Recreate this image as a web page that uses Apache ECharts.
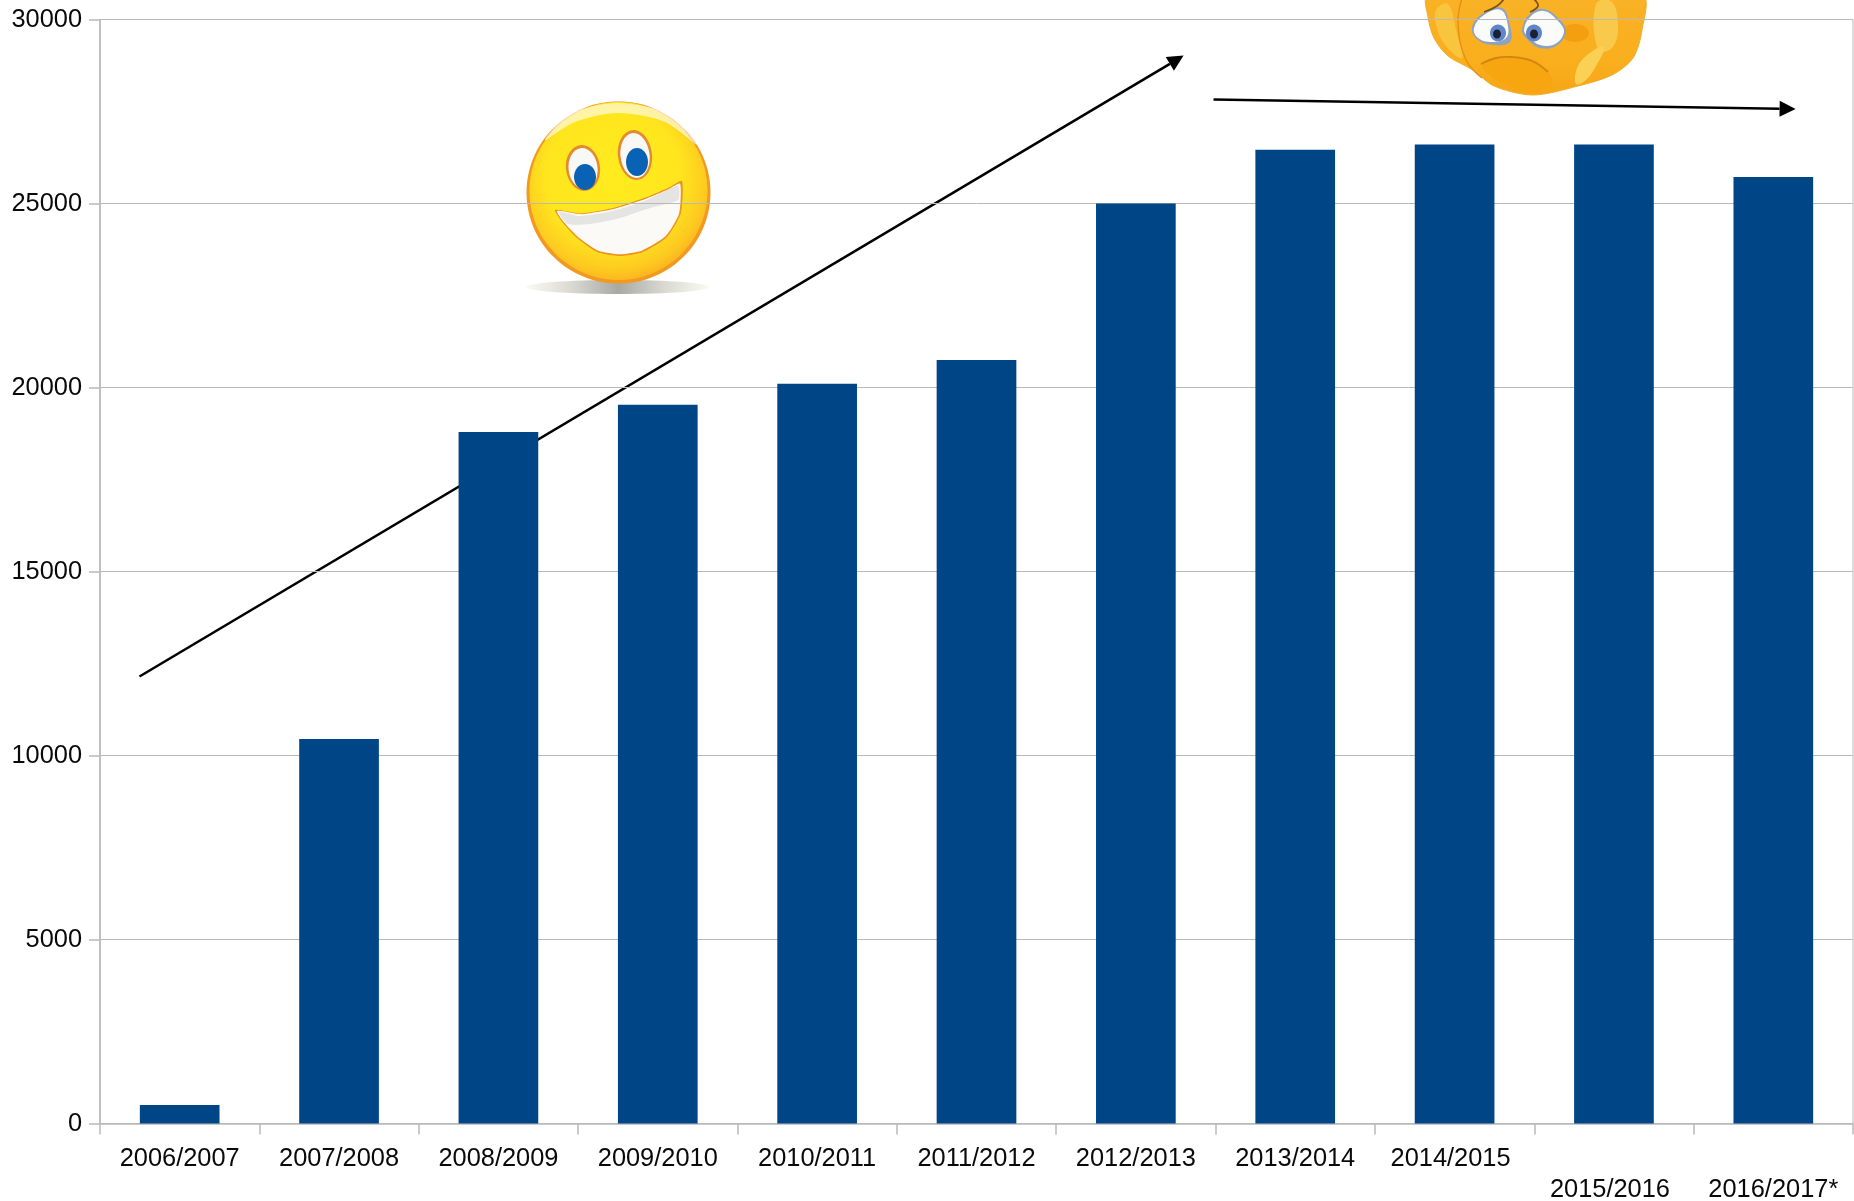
<!DOCTYPE html>
<html>
<head>
<meta charset="utf-8">
<title>chart</title>
<script src="https://cdn.jsdelivr.net/npm/echarts@6/dist/echarts.min.js"></script>
<style>
  html, body { margin: 0; padding: 0; background: #fff; }
  #main { width: 1854px; height: 1201px; }
</style>
</head>
<body>
<div id="main"></div>
<script>
const categories = ['2006/2007', '2007/2008', '2008/2009', '2009/2010', '2010/2011', '2011/2012', '2012/2013', '2013/2014', '2014/2015', '2015/2016', '2016/2017*'];
const values = [500, 10450, 18790, 19530, 20100, 20750, 25000, 26460, 26600, 26600, 25720];
const yTicks = [0, 5000, 10000, 15000, 20000, 25000, 30000];

const gridColor = '#b9b9b9';
const barColor = '#004586';
const font = '"Liberation Sans", Arial, sans-serif';
const labelSize = 25.4;

function ellipse (cx, cy, rx, ry, fill, extra) {
  return Object.assign({type: 'ellipse', shape: {cx, cy, rx, ry}, style: {fill}}, extra || {});
}

function blob (points, fill, smooth, stroke, lineWidth) {
  return {
    type: 'polygon',
    shape: {points, smooth: smooth === undefined ? 0.4 : smooth},
    style: {fill, stroke: stroke || 'none', lineWidth: lineWidth || 0}
  };
}

function curve (points, stroke, lineWidth) {
  return {type: 'polyline', shape: {points, smooth: 0.4}, style: {stroke, lineWidth, fill: 'none'}};
}

function radial (x, y, r, stops) {
  return new echarts.graphic.RadialGradient(x, y, r, stops.map(s => ({offset: s[0], color: s[1]})));
}

function linear (x2, y2, stops) {
  return new echarts.graphic.LinearGradient(0, 0, x2, y2, stops.map(s => ({offset: s[0], color: s[1]})));
}

// annotation arrow, the head is worked out from the direction of the line
function arrow (x1, y1, x2, y2) {
  const len = Math.hypot(x2 - x1, y2 - y1);
  const ux = (x2 - x1) / len;
  const uy = (y2 - y1) / len;
  const bx = x2 - ux * 16;
  const by = y2 - uy * 16;
  return [
    {type: 'line', shape: {x1, y1, x2: bx, y2: by}, style: {stroke: '#000', lineWidth: 2.6}},
    {type: 'polygon', shape: {points: [[x2, y2], [bx - uy * 8, by + ux * 8], [bx + uy * 8, by - ux * 8]]}, style: {fill: '#000'}}
  ];
}

function happyFace () {
  const mouth = [[555, 210], [580, 213.5], [613, 208], [647, 197], [670, 187], [682, 181], [681, 213], [667, 237], [643, 252], [620, 256], [597, 252], [577, 238], [563, 223]];
  return [
    {type: 'rect', shape: {x: 518, y: 102, width: 198, height: 196}, style: {fill: '#fff'}},
    ellipse(618, 287, 92, 7, linear(1, 0, [[0, '#fbfbf5'], [0.25, '#d9d9d2'], [0.5, '#a9a9a4'], [0.75, '#d9d9d2'], [1, '#fbfbf5']])),
    ellipse(618.5, 192.5, 92, 91, '#f29a20'),
    ellipse(618.5, 191, 89, 89, radial(0.47, 0.42, 0.62, [[0, '#ffec1f'], [0.62, '#ffe51d'], [0.85, '#fdc921'], [1, '#f8ab1f']])),
    blob([[545, 140], [570, 114], [618, 103], [668, 114], [697, 145], [665, 122], [618, 113], [575, 122]], 'rgba(255,255,255,0.6)', 0.3),
    ellipse(583, 168, 17, 23, '#e58a2e', {rotation: 0.12, originX: 583, originY: 168}),
    ellipse(583, 168.5, 14.5, 20.5, '#f8f8f6', {rotation: 0.12, originX: 583, originY: 168}),
    ellipse(635, 155, 17, 25, '#e58a2e', {rotation: 0.12, originX: 635, originY: 155}),
    ellipse(635, 155.5, 14.5, 22.5, '#f8f8f6', {rotation: 0.12, originX: 635, originY: 155}),
    ellipse(585, 177, 11, 13, '#0a62b5'),
    ellipse(637, 162, 11, 14, '#0a62b5'),
    blob(mouth, '#ee9022', 0.2),
    blob(mouth.map(p => [p[0] + (618 - p[0]) * 0.03, p[1] + (225 - p[1]) * 0.06]), '#fbfaf6', 0.2),
    blob([[559, 212], [580, 216], [613, 211], [647, 200], [678, 186], [678, 200], [650, 208], [620, 218], [590, 224], [568, 224]], 'rgba(205,205,205,0.5)', 0.2)
  ];
}

function sadFace () {
  const outline = [[1428, -4], [1428, 17], [1434, 38], [1448, 56], [1473, 70], [1494, 86], [1533, 95], [1578, 86], [1612, 75], [1633, 58], [1642, 30], [1642, -4]];
  return [
    {type: 'rect', shape: {x: 1426, y: 0, width: 218, height: 80}, style: {fill: '#fff'}},
    blob(outline, linear(0, 1, [[0, '#f9b227'], [0.7, '#f9ae1d'], [1, '#f6a516']]), 0.3, '#f0ae28', 1),
    // hands
    blob([[1436, 10], [1448, 4], [1456, 30], [1462, 58], [1446, 46], [1437, 28]], '#f9c53f', 0.4),
    curve([[1462, -2], [1458, 24], [1466, 60], [1482, 78]], '#e88f12', 1.4),
    blob([[1596, 4], [1612, 2], [1618, 28], [1612, 48], [1598, 50]], '#f9c94b', 0.4),
    blob([[1576, 84], [1578, 66], [1594, 50], [1604, 48], [1596, 66], [1586, 80]], '#fad055', 0.4),
    ellipse(1575, 33, 14, 9, '#f39f10'),
    // mouth
    blob([[1482, 64], [1510, 57], [1534, 60], [1548, 72], [1552, 84], [1533, 92], [1500, 82]], '#f7a60f', 0.4),
    curve([[1481, 64], [1496, 58], [1512, 57], [1532, 61], [1548, 72]], '#d08512', 1.8),
    // eyes
    blob([[1472, 28], [1482, 14], [1502, 8], [1510, 26], [1510, 42], [1494, 45], [1478, 40]], '#8ea2c4', 0.4),
    blob([[1474, 28], [1484, 15], [1501, 10], [1508, 26], [1506, 38], [1492, 42], [1478, 38]], '#fbfbf7', 0.4),
    blob([[1522, 30], [1530, 14], [1544, 9], [1560, 20], [1566, 32], [1556, 46], [1540, 48], [1528, 40]], '#8ea2c4', 0.4),
    blob([[1524, 30], [1531, 16], [1544, 11], [1558, 21], [1564, 32], [1555, 44], [1540, 45], [1530, 38]], '#fbfbf7', 0.4),
    ellipse(1498, 33, 8, 8.5, '#5f86c6'),
    ellipse(1534, 33, 8, 8.5, '#5f86c6'),
    ellipse(1497, 34, 4, 4.5, '#1c2035'),
    ellipse(1534, 34, 4, 4.5, '#1c2035'),
    // brows
    curve([[1484, 12], [1497, 6], [1504, -1]], '#7d5218', 1.8),
    curve([[1530, 12], [1538, 6], [1534, -1]], '#7d5218', 1.8)
  ];
}

const chart = echarts.init(document.getElementById('main'));

chart.setOption({
  backgroundColor: '#fff',
  animation: false,
  grid: {
    left: 100,
    right: 1,
    top: 19.5,
    bottom: 77.5,
    outerBoundsMode: 'none',
    show: true,
    borderColor: gridColor,
    borderWidth: 1
  },
  xAxis: {
    type: 'category',
    data: categories,
    axisLine: {show: true, lineStyle: {color: gridColor, width: 1.5}},
    axisTick: {show: true, length: 11, lineStyle: {color: gridColor, width: 1.5}},
    axisLabel: {
      interval: 0,
      margin: 20,
      fontFamily: font,
      fontSize: labelSize,
      color: '#0a0a0a',
      lineHeight: 31,
      hideOverlap: false,
      // the last labels sit one row lower, as in the source chart
      formatter: (value, index) => {
        if (index === 8) return '{s|' + value + '}';
        if (index === 9) return '{s| }\n{s|' + value + '}';
        if (index === 10) return '\n' + value;
        return value;
      },
      rich: {
        s: {fontFamily: font, fontSize: labelSize, color: '#0a0a0a', lineHeight: 31, padding: [0, 8, 0, 0]}
      }
    }
  },
  yAxis: {
    type: 'value',
    min: yTicks[0],
    max: yTicks[yTicks.length - 1],
    interval: yTicks[1] - yTicks[0],
    axisLine: {show: true, lineStyle: {color: gridColor, width: 1.5}},
    axisTick: {show: true, length: 11, lineStyle: {color: gridColor, width: 1.5}},
    axisLabel: {
      margin: 18,
      fontFamily: font,
      fontSize: labelSize,
      color: '#0a0a0a',
      padding: [2, 0, 0, 0],
      formatter: value => String(value)
    },
    splitLine: {show: true, lineStyle: {color: gridColor, width: 1}}
  },
  series: [{
    type: 'bar',
    data: values,
    barWidth: '50%',
    itemStyle: {color: barColor}
  }],
  graphic: {
    elements: [
      ...happyFace(),
      ...sadFace(),
      ...arrow(139.5, 676.5, 1183.6, 55.6),
      ...arrow(1213.5, 99.5, 1795.6, 109)
    ]
  }
});
</script>
</body>
</html>
